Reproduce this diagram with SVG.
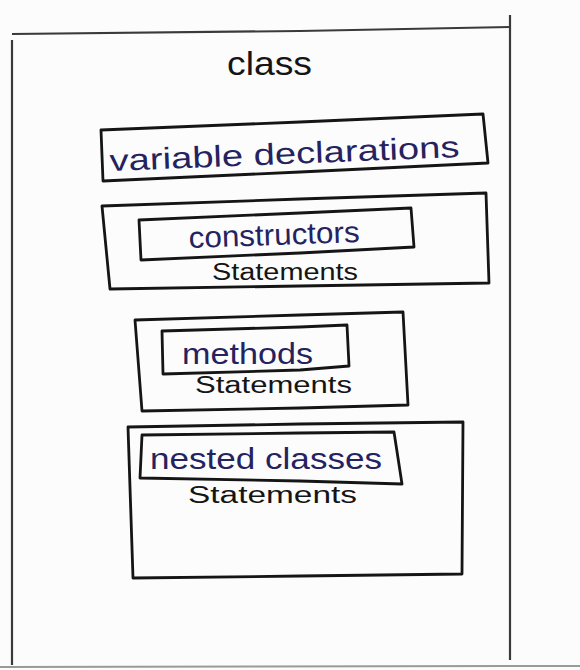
<svg xmlns="http://www.w3.org/2000/svg" width="580" height="670" viewBox="0 0 580 670">
<style>
.box{fill:none;stroke:#151515;stroke-width:2.8;stroke-linejoin:round;stroke-linecap:round}
.frame{fill:none;stroke:#3a3a3a;stroke-width:2.2}
.lbl{font-family:"Liberation Sans","DejaVu Sans",sans-serif;fill:#25235f;font-size:30px}
.st{font-family:"Liberation Sans","DejaVu Sans",sans-serif;fill:#151515;font-size:23px}
.ttl{font-family:"Liberation Sans","DejaVu Sans",sans-serif;fill:#151515;font-size:33px}
</style>
<rect width="580" height="670" fill="#fcfcfc"/>
<g id="frame">
<path class="frame" d="M12,34 L300,31 L510,27"/>
<path class="frame" d="M12,40 L12,665"/>
<path class="frame" d="M510,15 L510,660"/>
<path d="M0,667 L580,666" stroke="#9a9a9a" stroke-width="2" fill="none"/>
</g>
<g id="class-title">
<text class="ttl" x="227" y="75" textLength="85" lengthAdjust="spacingAndGlyphs">class</text>
</g>
<g id="variable-declarations">
<path class="box" d="M101,130 L300,122 L483,114 L488,163 L300,172 L103,181 Z"/>
<text class="lbl" x="110" y="171" textLength="350" lengthAdjust="spacingAndGlyphs" transform="rotate(-2.3 110 171)">variable declarations</text>
</g>
<g id="constructors">
<path class="box" d="M102,206 L300,199 L486,193 L489,283 L300,286 L110,289 Z"/>
<path class="box" d="M139,220 L300,213 L411,208 L414,247 L300,253 L141,260 Z"/>
<text class="lbl" x="189" y="248" textLength="171" lengthAdjust="spacingAndGlyphs" transform="rotate(-2 189 248)">constructors</text>
<text class="st" x="212" y="280" textLength="146" lengthAdjust="spacingAndGlyphs">Statements</text>
</g>
<g id="methods">
<path class="box" d="M135,320 L300,315 L403,312 L408,405 L300,408 L142,411 Z"/>
<path class="box" d="M162,331 L300,327 L347,325 L349,366 L300,370 L163,374 Z"/>
<text class="lbl" x="182" y="364" textLength="131" lengthAdjust="spacingAndGlyphs">methods</text>
<text class="st" x="195" y="393" textLength="157" lengthAdjust="spacingAndGlyphs">Statements</text>
</g>
<g id="nested-classes">
<path class="box" d="M128,427 L300,424 L463,422 L462,574 L300,576 L133,578 Z"/>
<path class="box" d="M142,435 L300,433 L394,432 L402,484 L300,481 L140,478 Z"/>
<text class="lbl" x="150" y="469" textLength="232" lengthAdjust="spacingAndGlyphs">nested classes</text>
<text class="st" x="188" y="503" textLength="169" lengthAdjust="spacingAndGlyphs">Statements</text>
</g>
<g id="connectors"></g>
</svg>
